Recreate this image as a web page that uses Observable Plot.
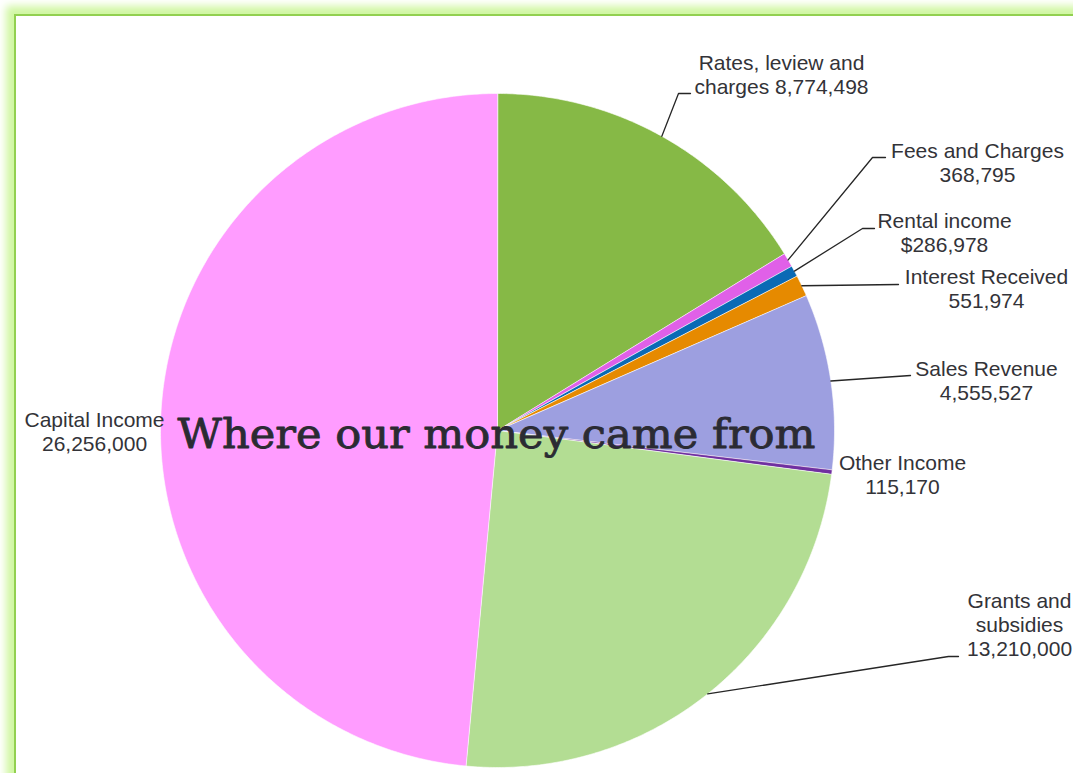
<!DOCTYPE html>
<html>
<head>
<meta charset="utf-8">
<script src="https://cdn.jsdelivr.net/npm/d3@7"></script>
<script src="https://cdn.jsdelivr.net/npm/@observablehq/plot@0.6"></script>
<style>
  html, body { margin: 0; padding: 0; width: 1073px; height: 773px; overflow: hidden; background: #fff; }
  #frame { position: absolute; left: 14px; top: 14px; width: 1200px; height: 900px;
           border: 2px solid #92d050; box-shadow: 0 0 8px 8px #d0f7a2; background: #fff; }
  #chart { position: absolute; left: 0; top: 0; }
</style>
</head>
<body>
<div id="frame"></div>
<div id="chart"></div>
<script>
// ---- data ----
const categories = ["Rates, leview and charges", "Fees and Charges", "Rental income", "Interest Received",
                    "Sales Revenue", "Other Income", "Grants and subsidies", "Capital Income"];
const values = [8774498, 368795, 286978, 551974, 4555527, 115170, 13210000, 26256000];
const colors = ["#86b946", "#e060e8", "#0a6ab5", "#e68a00", "#9d9fe0", "#7030a0", "#b3dd93", "#ff9cff"];
const labelTemplates = ["Rates, leview and\ncharges {v}", "Fees and Charges\n{v}", "Rental income\n${v}",
                        "Interest Received\n{v}", "Sales Revenue\n{v}", "Other Income\n{v}",
                        "Grants and\nsubsidies\n{v}", "Capital Income\n{v}"];
const title = "Where our money came from";

// ---- layout (pixels) ----
const W = 1073, H = 773, cx = 497, cy = 430, R = 337;
const labelPos = [[781, 67.5], [977, 155], [944, 225], [986, 281], [986, 373], [902, 467], [1019, 605], [94, 424]];
const leaderPts = [[[678, 93], [690, 93]], [[872, 157], [885, 157]], [[862, 228], [874, 228]], [[898, 284]],
                   [[910, 375]], null, [[948, 656], [958, 656]], null];
const fontSize = 21;

const fmt = d3.format(",");
const arcs = d3.pie().sort(null).value(d => d)(values);

const sliceRows = arcs.flatMap((a, i) => {
  const n = Math.max(2, Math.ceil((a.endAngle - a.startAngle) / (Math.PI / 360)));
  const pts = [{name: categories[i], x: cx, y: cy}];
  for (let k = 0; k <= n; k++) {
    const t = a.startAngle + (a.endAngle - a.startAngle) * k / n;
    pts.push({name: categories[i], x: cx + R * Math.sin(t), y: cy - R * Math.cos(t)});
  }
  return pts;
});

const leaderRows = arcs.flatMap((a, i) => {
  if (!leaderPts[i]) return [];
  const m = (a.startAngle + a.endAngle) / 2;
  return [{i, x: cx + R * Math.sin(m), y: cy - R * Math.cos(m)},
          ...leaderPts[i].map(([x, y]) => ({i, x, y}))];
});

const labelRows = categories.map((c, i) => ({
  x: labelPos[i][0], y: labelPos[i][1],
  text: labelTemplates[i].replace("{v}", fmt(values[i]))
}));

const plot = Plot.plot({
  width: W, height: H,
  margin: 0,
  x: {domain: [0, W], range: [0, W], axis: null},
  y: {domain: [0, H], range: [0, H], axis: null},
  color: {type: "ordinal", domain: categories, range: colors},
  style: {background: "transparent", overflow: "visible"},
  marks: [
    Plot.line(sliceRows, {x: "x", y: "y", z: "name", fill: "name", stroke: "white", strokeWidth: 0.6, curve: "linear-closed"}),
    Plot.line(leaderRows, {x: "x", y: "y", z: "i", stroke: "#262626", strokeWidth: 1.3}),
    Plot.text(labelRows, {x: "x", y: "y", text: "text", fontSize, lineHeight: 24 / fontSize, lineAnchor: "top",
                          dy: -0.71 * fontSize, fill: "#333338", fontFamily: "Liberation Sans, Arial, sans-serif"}),
    Plot.text([title], {x: () => 496, y: () => 434, text: d => d, fontSize: 41, fill: "#2b2b33",
                        stroke: "#2b2b33", strokeWidth: 0.9, fontFamily: "DejaVu Serif, serif"})
  ]
});
document.getElementById("chart").appendChild(plot);
for (const t of plot.querySelectorAll("text")) {
  if (t.textContent === title) {
    t.setAttribute("textLength", 638);
    t.setAttribute("lengthAdjust", "spacingAndGlyphs");
  }
}
</script>
</body>
</html>
